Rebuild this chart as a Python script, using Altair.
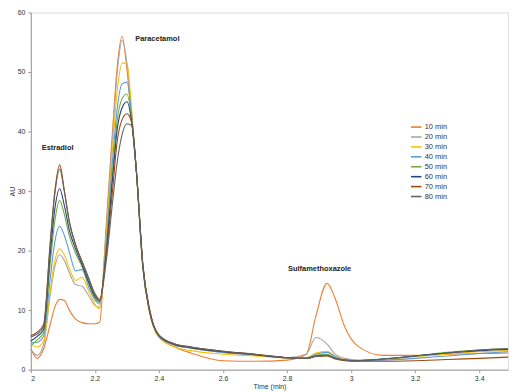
import altair as alt
import pandas as pd

# shared time grid (min)
T = [2.00, 2.02, 2.04, 2.06, 2.075, 2.09, 2.105, 2.12, 2.14, 2.16, 2.18, 2.20, 2.215,
     2.235, 2.255, 2.27, 2.285, 2.30, 2.315, 2.33, 2.35, 2.37, 2.40, 2.45, 2.50, 2.60,
     2.70, 2.80, 2.86, 2.89, 2.925, 2.95, 2.98, 3.02, 3.10, 3.20, 3.30, 3.40, 3.49]

names = ["10 min", "20 min", "30 min", "40 min", "50 min", "60 min", "70 min", "80 min"]
colors = ["#ED7D31", "#A5A5A5", "#FFC000", "#5B9BD5", "#70AD47", "#264478", "#9E480E", "#636363"]

s10 = [3.5, 1.9, 3.5, 7.5, 10.5, 11.8, 11.6, 10.0, 8.5, 7.9, 7.7, 7.7, 8.0,
       24.0, 40.0, 51.0, 56.0, 50.5, 42.0, 33.0, 17.5, 10.5, 5.5, 3.8, 2.8, 1.5,
       1.4, 1.6, 2.6, 9.0, 14.5, 12.0, 7.2, 4.0, 2.4, 2.4, 2.6, 2.7, 2.8]
s20 = [3.4, 2.4, 4.2, 12.3, 17.3, 19.3, 18.3, 16.3, 14.3, 14.0, 12.5, 10.8, 10.5,
       23.0, 39.0, 50.0, 55.3, 51.5, 43.0, 33.0, 17.0, 10.0, 5.6, 4.1, 3.6, 2.9,
       2.4, 2.0, 2.6, 5.4, 4.3, 2.6, 1.9, 1.6, 1.7, 2.2, 2.8, 3.2, 3.5]
s30 = [4.2, 3.8, 4.8, 13.0, 18.3, 20.3, 19.2, 17.0, 15.0, 15.5, 13.3, 11.0, 10.2,
       22.0, 37.0, 47.0, 51.5, 51.5, 43.5, 33.0, 17.0, 9.8, 5.4, 3.8, 3.2, 2.6,
       2.3, 2.0, 2.0, 2.8, 3.1, 2.3, 1.7, 1.5, 1.7, 2.2, 2.6, 3.0, 3.2]
s40 = [4.5, 4.6, 5.6, 15.0, 21.5, 24.1, 22.5, 19.8, 16.6, 16.8, 14.0, 11.7, 11.0,
       21.0, 35.0, 44.0, 48.0, 48.3, 42.5, 33.0, 17.0, 10.0, 5.6, 4.1, 3.6, 2.9,
       2.5, 2.0, 1.9, 2.6, 2.9, 2.2, 1.6, 1.5, 1.6, 1.9, 2.3, 2.7, 3.0]
s50 = [4.0, 5.0, 6.2, 17.5, 25.0, 28.4, 26.0, 22.5, 19.5, 17.3, 14.5, 12.0, 11.3,
       20.0, 33.0, 42.0, 45.5, 46.3, 42.0, 33.0, 17.2, 10.0, 5.7, 4.2, 3.7, 3.0,
       2.5, 2.0, 1.9, 2.4, 2.6, 2.0, 1.6, 1.5, 1.8, 2.3, 2.9, 3.3, 3.5]
s60 = [4.8, 5.6, 6.8, 19.0, 27.0, 30.4, 27.5, 23.5, 20.2, 17.6, 14.8, 12.3, 11.5,
       19.5, 32.0, 40.5, 44.0, 45.0, 41.5, 33.0, 17.3, 10.0, 5.7, 4.2, 3.7, 3.0,
       2.5, 2.0, 1.9, 2.3, 2.4, 1.9, 1.6, 1.5, 1.8, 2.3, 2.8, 3.2, 3.4]
s70 = [5.7, 6.3, 7.6, 21.0, 30.0, 34.4, 30.0, 25.0, 21.0, 18.2, 15.5, 12.8, 11.8,
       19.0, 30.0, 38.5, 42.0, 43.0, 41.5, 33.2, 17.5, 10.2, 5.8, 4.3, 3.8, 3.1,
       2.6, 2.0, 1.9, 2.2, 2.3, 1.8, 1.5, 1.4, 1.4, 1.5, 1.7, 1.9, 2.1]
s80 = [5.5, 6.0, 7.3, 20.5, 29.5, 33.7, 29.8, 24.8, 20.8, 18.0, 15.3, 12.6, 11.6,
       18.0, 28.0, 35.0, 39.5, 41.3, 41.0, 33.2, 17.5, 10.2, 5.8, 4.3, 3.8, 3.1,
       2.6, 2.0, 1.9, 2.2, 2.4, 1.9, 1.6, 1.5, 1.8, 2.3, 2.8, 3.3, 3.5]

series = [s10, s20, s30, s40, s50, s60, s70, s80]

# peak labels
peak_labels = ["Estradiol", "Paracetamol", "Sulfamethoxazole"]
peak_t = [2.034, 2.326, 2.803]
peak_v = [37.2, 55.5, 16.9]

x_ticks = [2, 2.2, 2.4, 2.6, 2.8, 3, 3.2, 3.4]
y_ticks = [0, 10, 20, 30, 40, 50, 60]

rows = []
for name, vals in zip(names, series):
    for t, v in zip(T, vals):
        rows.append({"series": name, "t": t, "v": v})
df = pd.DataFrame(rows)
ann = pd.DataFrame({"label": peak_labels, "t": peak_t, "v": peak_v})

FONT = "Liberation Sans"

xscale = alt.Scale(domain=[2, 3.49], nice=False, zero=False)
yscale = alt.Scale(domain=[0, 60], nice=False)

lines = alt.Chart(df).mark_line(strokeWidth=1.1, interpolate="monotone").encode(
    x=alt.X("t:Q", scale=xscale,
            axis=alt.Axis(values=x_ticks, format="~g", title="Time (min)",
                          labelFontSize=7, titleFontSize=7, titleFontWeight="normal",
                          labelColor="#333", titleColor="#333", domainColor="#999",
                          tickColor="#999", tickSize=3, grid=False, labelPadding=2,
                          titlePadding=1)),
    y=alt.Y("v:Q", scale=yscale,
            axis=alt.Axis(values=y_ticks, title="AU", labelFontSize=7, titleFontSize=7,
                          titleFontWeight="normal", labelColor="#333", titleColor="#333",
                          domainColor="#999", tickColor="#999", tickSize=3, grid=False,
                          labelPadding=3, titlePadding=2)),
    color=alt.Color("series:N", scale=alt.Scale(domain=names, range=colors),
                    legend=alt.Legend(title=None, orient="none", legendX=382, legendY=109,
                                      symbolType="stroke", symbolSize=110,
                                      symbolStrokeWidth=1.6, labelFontSize=7.5,
                                      labelColor="#333", rowPadding=0, labelOffset=2,
                                      labelFont=FONT)),
)

texts = alt.Chart(ann).mark_text(align="left", baseline="middle", fontSize=7.5,
                                 fontWeight="bold", color="#222", font=FONT).encode(
    x=alt.X("t:Q", scale=xscale), y=alt.Y("v:Q", scale=yscale), text="label:N")

chart = alt.layer(lines, texts).properties(
    width=481, height=360,
    autosize=alt.AutoSizeParams(type="none"),
    padding={"left": 23, "top": 3, "right": 4, "bottom": 20},
).configure_view(stroke="#888", strokeWidth=1).configure(font=FONT)

chart.save("out.html", embed_options={"renderer": "svg", "actions": False})
